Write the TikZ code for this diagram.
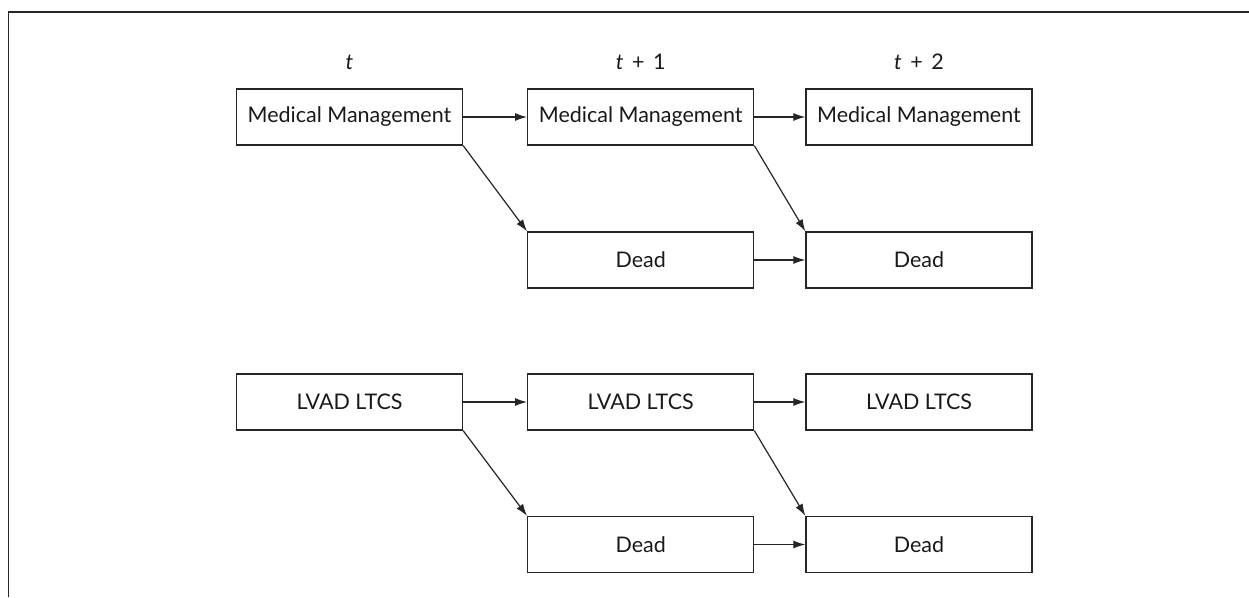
\documentclass[tikz,border=0pt]{standalone}
\usepackage{fontspec}
\setmainfont{Lato}
\usetikzlibrary{arrows.meta}
\begin{document}
\begin{tikzpicture}[x=1pt,y=-1pt,
  box/.style={draw=black!85,line width=1.3pt,minimum width=226pt,minimum height=56pt,inner sep=0pt,font=\fontsize{21.5}{24}\selectfont,text=black!90},
  lbl/.style={font=\fontsize{21.5}{24}\selectfont,text=black!90},
  arr/.style={draw=black!85,line width=1.2pt,-{Latex[length=12pt,width=8pt]}},
  frame/.style={draw=black!85,line width=1.5pt}]
\useasboundingbox (0,0) rectangle (1249,597);
\coordinate (f1) at (1249,12);
\coordinate (f2) at (8.5,12);
\coordinate (f3) at (8.5,597);
\draw[frame] (f1) -- (f2) -- (f3);
\node[lbl] (lt0) at (349.5,62) {\textit{t}};
\node[lbl] (lt1) at (640.7,62) {\textit{t}\hspace{0.4em}+\hspace{0.4em}1};
\node[lbl] (lt2) at (919,62) {\textit{t}\hspace{0.4em}+\hspace{0.4em}2};
\node[box] (a1) at (349.5,117) {Medical Management};
\node[box] (b1) at (640.7,117) {Medical Management};
\node[box] (c1) at (919,117) {Medical Management};
\node[box] (d1) at (640.7,260) {Dead};
\node[box] (e1) at (919,260) {Dead};
\node[box] (a2) at (349.5,402) {LVAD LTCS};
\node[box] (b2) at (640.7,402) {LVAD LTCS};
\node[box] (c2) at (919,402) {LVAD LTCS};
\node[box] (d2) at (640.7,544.5) {Dead};
\node[box] (e2) at (919,544.5) {Dead};
\draw[arr] (a1) -- (b1);
\draw[arr] (b1) -- (c1);
\draw[arr] (d1) -- (e1);
\draw[arr] (a1.south east) -- (d1.north west);
\draw[arr] (b1.south east) -- (e1.north west);
\draw[arr] (a2) -- (b2);
\draw[arr] (b2) -- (c2);
\draw[arr] (d2) -- (e2);
\draw[arr] (a2.south east) -- (d2.north west);
\draw[arr] (b2.south east) -- (e2.north west);
\end{tikzpicture}
\end{document}
